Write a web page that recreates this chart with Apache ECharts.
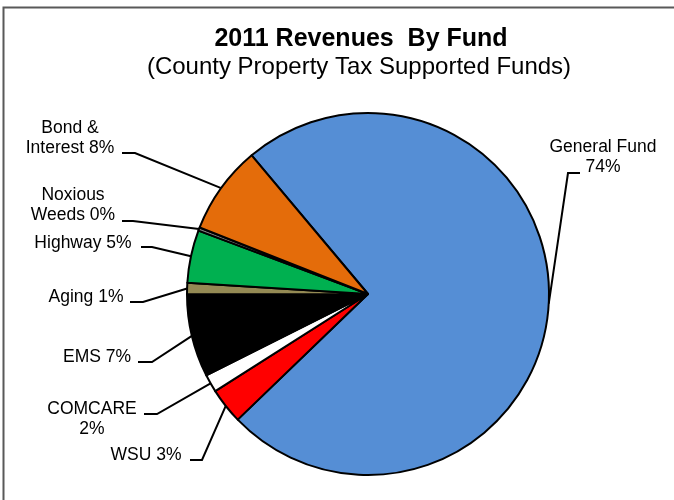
<!DOCTYPE html>
<html>
<head>
<meta charset="utf-8">
<title>2011 Revenues By Fund</title>
<script src="https://cdn.jsdelivr.net/npm/echarts@6/dist/echarts.min.js"></script>
<style>
  html, body { margin: 0; padding: 0; background: #fff; }
  #chart { width: 674px; height: 500px; }
</style>
</head>
<body>
<div id="chart"></div>
<script>
// Fund names (line breaks where the label wraps), in clockwise order
const categories = ['General Fund', 'WSU', 'COMCARE', 'EMS', 'Aging', 'Highway', 'Noxious\nWeeds', 'Bond &\nInterest'];
// Share of 2011 revenues, percent
const shares = [73.9, 3.2, 1.6, 7.4, 1.0, 4.7, 0.3, 7.9];
const sliceColors = ['#558ED5', '#FF0000', '#FFFFFF', '#000000', '#948A54', '#00B050', '#7F7F7F', '#E46C0A'];
// Labels whose percentage sits on its own line
const pctOnNewLine = ['General Fund', 'COMCARE'];

// Label placement: text centre, then the leader's elbow and its end beside the text
const labelSpots = [
  { x: 603, y: 157, knee: [568, 173], end: [580, 173] },
  { x: 146, y: 455, knee: [202, 460], end: [190, 460] },
  { x: 92, y: 419, knee: [157, 414], end: [144, 414] },
  { x: 97, y: 357, knee: [152, 362], end: [138, 362] },
  { x: 86, y: 297, knee: [143, 302], end: [130, 302] },
  { x: 83, y: 243, knee: [152, 247], end: [141, 247] },
  { x: 73, y: 205, knee: [133, 221], end: [122, 221] },
  { x: 70, y: 138, knee: [135, 153], end: [122, 153] }
];

const chart = echarts.init(document.getElementById('chart'), null, { renderer: 'canvas' });

const data = categories.map((name, i) => ({
  name: name,
  value: shares[i],
  itemStyle: { color: sliceColors[i] }
}));

chart.setOption({
  animation: false,
  backgroundColor: '#ffffff',
  title: [
    {
      text: '2011 Revenues  By Fund',
      left: 361, top: 26, textAlign: 'center', padding: 0,
      textStyle: { fontFamily: 'Liberation Sans', fontSize: 25, fontWeight: 'bold', color: '#000', lineHeight: 26 }
    },
    {
      text: '(County Property Tax Supported Funds)',
      left: 359, top: 54, textAlign: 'center', padding: 0,
      textStyle: { fontFamily: 'Liberation Sans', fontSize: 24, fontWeight: 'normal', color: '#000', lineHeight: 26 }
    }
  ],
  graphic: [
    {
      type: 'rect',
      silent: true,
      shape: { x: 3.5, y: 7.5, width: 720, height: 540 },
      style: { fill: 'none', stroke: '#595959', lineWidth: 2 }
    }
  ],
  series: [
    {
      type: 'pie',
      center: [368, 294],
      radius: 181,
      startAngle: 130,
      clockwise: true,
      avoidLabelOverlap: false,
      silent: true,
      emphasis: { disabled: true },
      itemStyle: { borderColor: '#000', borderWidth: 2 },
      label: {
        show: true,
        position: 'outside',
        fontFamily: 'Liberation Sans',
        fontSize: 17.5,
        lineHeight: 20,
        color: '#000',
        align: 'center',
        formatter: function (p) {
          const pct = Math.round(p.percent) + '%';
          const sep = pctOnNewLine.indexOf(p.name) >= 0 ? '\n' : ' ';
          return p.name + sep + pct;
        }
      },
      labelLine: {
        show: true,
        length: 10,
        length2: 10,
        lineStyle: { color: '#000', width: 2 }
      },
      labelLayout: function (params) {
        const spot = labelSpots[params.dataIndex];
        const edge = params.labelLinePoints ? params.labelLinePoints[0] : spot.knee;
        return {
          x: spot.x,
          y: spot.y,
          align: 'center',
          verticalAlign: 'middle',
          labelLinePoints: [edge, spot.knee, spot.end]
        };
      },
      data: data
    }
  ]
});
</script>
</body>
</html>
